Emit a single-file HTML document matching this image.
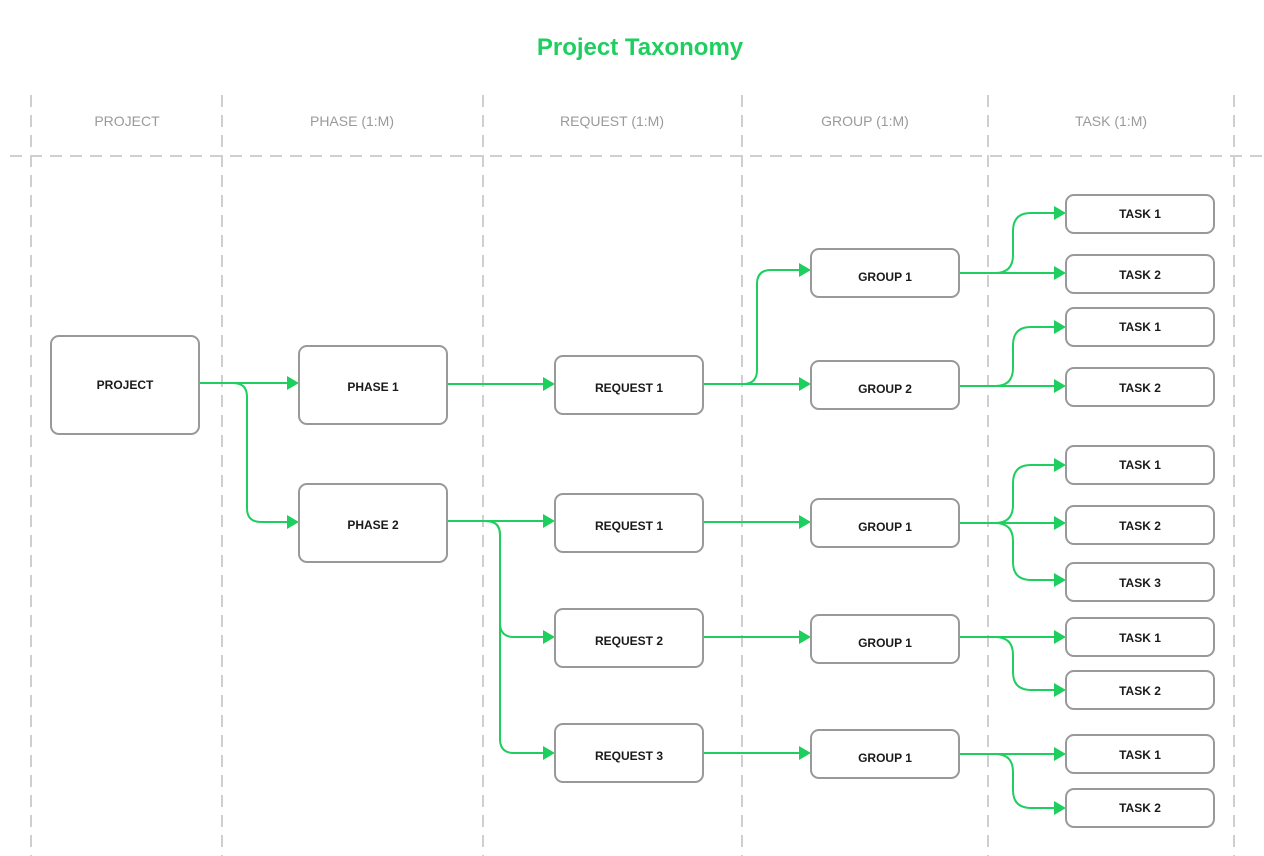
<!DOCTYPE html>
<html><head><meta charset="utf-8"><style>
html,body{margin:0;padding:0;background:#fff;}
svg{display:block;}
</style></head><body>
<svg width="1264" height="856" viewBox="0 0 1264 856" xmlns="http://www.w3.org/2000/svg" font-family="Liberation Sans, sans-serif">
<rect width="1264" height="856" fill="#fff"/>
<text x="640" y="55" text-anchor="middle" font-size="24" font-weight="bold" fill="#1ecf5f">Project Taxonomy</text>
<g stroke="#cfcfcf" stroke-width="2" stroke-dasharray="12 8" fill="none">
<line x1="31" y1="95" x2="31" y2="856"/>
<line x1="222" y1="95" x2="222" y2="856"/>
<line x1="483" y1="95" x2="483" y2="856"/>
<line x1="742" y1="95" x2="742" y2="856"/>
<line x1="988" y1="95" x2="988" y2="856"/>
<line x1="1234" y1="95" x2="1234" y2="856"/>
<line x1="10" y1="156" x2="1264" y2="156"/>
</g>
<g font-size="14" fill="#9a9a9a" text-anchor="middle">
<text x="127" y="126">PROJECT</text>
<text x="352" y="126">PHASE (1:M)</text>
<text x="612" y="126">REQUEST (1:M)</text>
<text x="865" y="126">GROUP (1:M)</text>
<text x="1111" y="126">TASK (1:M)</text>
</g>
<g stroke="#1ecf5f" stroke-width="2" fill="none">
<path d="M199 383 H288"/>
<path d="M199 383 H233 Q247 383 247 397 V508 Q247 522 261 522 H288"/>
<path d="M447 384 H544"/>
<path d="M447 521 H544"/>
<path d="M447 521 H486 Q500 521 500 535 V623 Q500 637 514 637 H544"/>
<path d="M486 521 Q500 521 500 535 V739 Q500 753 514 753 H544"/>
<path d="M703 384 H800"/>
<path d="M703 384 H743 Q757 384 757 370 V284 Q757 270 771 270 H800"/>
<path d="M703 522 H800"/>
<path d="M703 637 H800"/>
<path d="M703 753 H800"/>
<path d="M959 273 H1055"/>
<path d="M959 273 H995 Q1013 273 1013 255 V231 Q1013 213 1031 213 H1055"/>
<path d="M959 386 H1055"/>
<path d="M959 386 H995 Q1013 386 1013 368 V345 Q1013 327 1031 327 H1055"/>
<path d="M959 523 H1055"/>
<path d="M959 523 H995 Q1013 523 1013 505 V483 Q1013 465 1031 465 H1055"/>
<path d="M995 523 Q1013 523 1013 541 V562 Q1013 580 1031 580 H1055"/>
<path d="M959 637 H1055"/>
<path d="M959 637 H995 Q1013 637 1013 655 V672 Q1013 690 1031 690 H1055"/>
<path d="M959 754 H1055"/>
<path d="M959 754 H995 Q1013 754 1013 772 V790 Q1013 808 1031 808 H1055"/>
</g>
<g fill="#1ecf5f">
<path d="M299 383 l-12 -7 v14z"/>
<path d="M299 522 l-12 -7 v14z"/>
<path d="M555 384 l-12 -7 v14z"/>
<path d="M555 521 l-12 -7 v14z"/>
<path d="M555 637 l-12 -7 v14z"/>
<path d="M555 753 l-12 -7 v14z"/>
<path d="M811 270 l-12 -7 v14z"/>
<path d="M811 384 l-12 -7 v14z"/>
<path d="M811 522 l-12 -7 v14z"/>
<path d="M811 637 l-12 -7 v14z"/>
<path d="M811 753 l-12 -7 v14z"/>
<path d="M1066 213 l-12 -7 v14z"/>
<path d="M1066 273 l-12 -7 v14z"/>
<path d="M1066 327 l-12 -7 v14z"/>
<path d="M1066 386 l-12 -7 v14z"/>
<path d="M1066 465 l-12 -7 v14z"/>
<path d="M1066 523 l-12 -7 v14z"/>
<path d="M1066 580 l-12 -7 v14z"/>
<path d="M1066 637 l-12 -7 v14z"/>
<path d="M1066 690 l-12 -7 v14z"/>
<path d="M1066 754 l-12 -7 v14z"/>
<path d="M1066 808 l-12 -7 v14z"/>
</g>
<g fill="#fff" stroke="#999" stroke-width="2">
<rect x="51" y="336" width="148" height="98" rx="8"/>
<rect x="299" y="346" width="148" height="78" rx="8"/>
<rect x="299" y="484" width="148" height="78" rx="8"/>
<rect x="555" y="356" width="148" height="58" rx="8"/>
<rect x="555" y="494" width="148" height="58" rx="8"/>
<rect x="555" y="609" width="148" height="58" rx="8"/>
<rect x="555" y="724" width="148" height="58" rx="8"/>
<rect x="811" y="249" width="148" height="48" rx="8"/>
<rect x="811" y="361" width="148" height="48" rx="8"/>
<rect x="811" y="499" width="148" height="48" rx="8"/>
<rect x="811" y="615" width="148" height="48" rx="8"/>
<rect x="811" y="730" width="148" height="48" rx="8"/>
<rect x="1066" y="195" width="148" height="38" rx="8"/>
<rect x="1066" y="255" width="148" height="38" rx="8"/>
<rect x="1066" y="308" width="148" height="38" rx="8"/>
<rect x="1066" y="368" width="148" height="38" rx="8"/>
<rect x="1066" y="446" width="148" height="38" rx="8"/>
<rect x="1066" y="506" width="148" height="38" rx="8"/>
<rect x="1066" y="563" width="148" height="38" rx="8"/>
<rect x="1066" y="618" width="148" height="38" rx="8"/>
<rect x="1066" y="671" width="148" height="38" rx="8"/>
<rect x="1066" y="735" width="148" height="38" rx="8"/>
<rect x="1066" y="789" width="148" height="38" rx="8"/>
</g>
<g font-size="12" font-weight="bold" fill="#1a1a1a" text-anchor="middle">
<text x="125" y="389">PROJECT</text>
<text x="373" y="391">PHASE 1</text>
<text x="373" y="529">PHASE 2</text>
<text x="629" y="392">REQUEST 1</text>
<text x="629" y="530">REQUEST 1</text>
<text x="629" y="645">REQUEST 2</text>
<text x="629" y="760">REQUEST 3</text>
<text x="885" y="281">GROUP 1</text>
<text x="885" y="393">GROUP 2</text>
<text x="885" y="531">GROUP 1</text>
<text x="885" y="647">GROUP 1</text>
<text x="885" y="762">GROUP 1</text>
<text x="1140" y="218">TASK 1</text>
<text x="1140" y="279">TASK 2</text>
<text x="1140" y="331">TASK 1</text>
<text x="1140" y="392">TASK 2</text>
<text x="1140" y="469">TASK 1</text>
<text x="1140" y="530">TASK 2</text>
<text x="1140" y="587">TASK 3</text>
<text x="1140" y="642">TASK 1</text>
<text x="1140" y="695">TASK 2</text>
<text x="1140" y="759">TASK 1</text>
<text x="1140" y="812">TASK 2</text>
</g>
</svg>
</body></html>
